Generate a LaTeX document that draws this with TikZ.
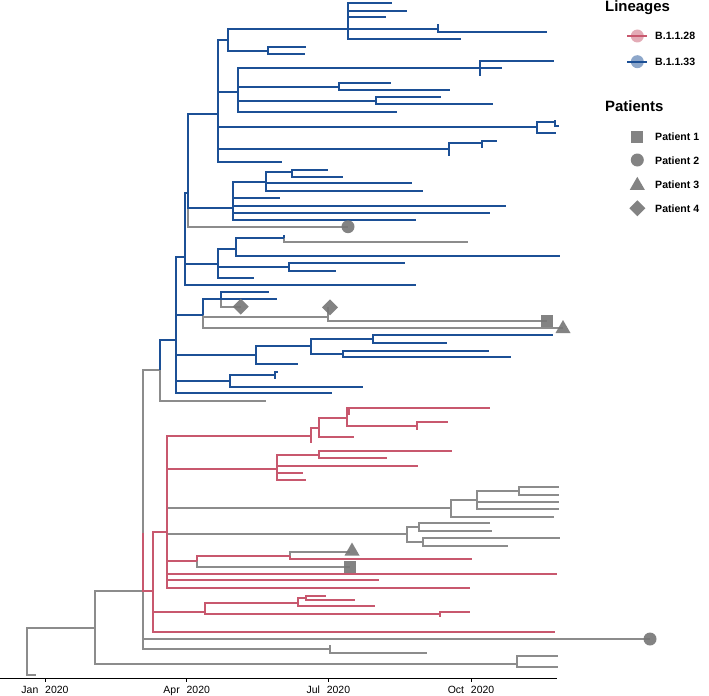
\documentclass[tikz,border=0pt]{standalone}
\usepackage{fontspec}
\setmainfont{Liberation Sans}
\definecolor{linblue}{RGB}{28,80,150}
\definecolor{linred}{RGB}{200,88,110}
\definecolor{lingray}{RGB}{140,140,140}
\definecolor{ptgray}{RGB}{118,118,118}

% patient markers
\newcommand{\psq}[1]{\fill[pt] #1 ++(-6,-6) rectangle ++(12,12);}
\newcommand{\pci}[1]{\fill[pt] #1 circle (6.5);}
\newcommand{\ptri}[1]{\fill[pt] #1 ++(0,-7.5) -- ++(7.5,13) -- ++(-15,0) -- cycle;}
\newcommand{\pdia}[1]{\fill[pt] #1 ++(0,-8) -- ++(8,8) -- ++(-8,8) -- ++(-8,-8) -- cycle;}

\begin{document}
\begin{tikzpicture}[x=1bp,y=-1bp,
    blu/.style={draw=linblue,line width=1.9bp},
    rd/.style={draw=linred,line width=1.9bp},
    gry/.style={draw=lingray,line width=1.9bp},
    pt/.style={fill=ptgray,fill opacity=0.9},
    lab/.style={anchor=base west,inner sep=0pt,font=\bfseries\fontsize{10.6}{13}\selectfont},
    ttl/.style={anchor=base west,inner sep=0pt,font=\bfseries\fontsize{15}{17}\selectfont}]
    \useasboundingbox (0,0) rectangle (709,696);

    % Backbone (gray)
    \draw[gry] (27,651) |- (95,627.7) (27,651) |- (36,674.7);
    \draw[gry] (95,627.7) |- (142.7,591) (95,627.7) |- (517,664);
    \draw[gry] (517,664) |- (558,656) (517,664) |- (558,667);
    \draw[gry] (142.7,591) |- (160,370) (142.7,591) |- (650,639) (142.7,591) |- (330,649);
    \draw[gry] (330,649) |- (427,653) (330,649) -- (330,645);
    \draw[gry] (160,370) |- (266,400.7);

    % Gray tips inside B.1.1.33
    \draw[gry] (188.3,193) |- (348,226.7);
    \draw[gry] (203.3,315) |- (328.3,317.3) (203.3,315) |- (563,328.3);
    \draw[gry] (221,299) |- (240.7,306.7);
    \draw[gry] (328.3,317.3) -- (328.3,307) (328.3,317.3) |- (546.7,321);
    \draw[gry] (284.3,238.3) |- (468.3,241.7);

    % Gray clades inside B.1.1.28
    \draw[gry] (166.7,531.7) |- (451,508.3) (166.7,531.7) |- (407.3,534);
    \draw[gry] (451,508.3) |- (477.3,500) (451,508.3) |- (554,516.7);
    \draw[gry] (477.3,500) |- (519.3,490.7) (477.3,500) |- (559,501.7) (477.3,500) |- (559,509.3);
    \draw[gry] (519.3,490.7) |- (559,487.3) (519.3,490.7) |- (559,495);
    \draw[gry] (407.3,534) |- (419.3,526.7) (407.3,534) |- (423.3,541.7);
    \draw[gry] (419.3,526.7) |- (490,523.3) (419.3,526.7) |- (491.7,530.7);
    \draw[gry] (423.3,541.7) |- (560,537.7) (423.3,541.7) |- (508.3,545.7);
    \draw[gry] (196.7,561) |- (350,566.7);
    \draw[gry] (290,556) |- (350,552.3);

    % B.1.1.33
    \draw[blu] (160,370) |- (176,340);
    \draw[blu] (176,340) |- (185,256.7) (176,340) |- (203.3,315) (176,340) |- (256,355)
               (176,340) |- (230,380.7) (176,340) |- (331.7,393.3);
    \draw[blu] (185,256.7) |- (188.3,193) (185,256.7) |- (218.3,264.3) (185,256.7) |- (415.7,285);
    \draw[blu] (188.3,193) |- (217.7,114) (188.3,193) |- (232.7,208.3);
    \draw[blu] (217.7,114) |- (228.3,40) (217.7,114) |- (237.7,91.7) (217.7,114) |- (536.7,127.3)
               (217.7,114) |- (449,149.3) (217.7,114) |- (281.7,162.3);
    \draw[blu] (228.3,40) |- (347.7,29) (228.3,40) |- (268.3,50.7);
    \draw[blu] (347.7,29) |- (392.3,2.7) (347.7,29) |- (407.3,10.7) (347.7,29) |- (386,17.3)
               (347.7,29) -- (438.3,29) (347.7,29) |- (460.7,39.3);
    \draw[blu] (438.3,29) -- (438.3,24) (438.3,29) |- (546.7,32.3);
    \draw[blu] (268.3,50.7) |- (306,46.7) (268.3,50.7) |- (305,54);
    \draw[blu] (237.7,91.7) |- (480,68.3) (237.7,91.7) |- (339.3,87.3) (237.7,91.7) |- (376,100.7)
               (237.7,91.7) |- (396.7,111.7);
    \draw[blu] (480,68.3) |- (554,60.7) (480,68.3) -- (501.7,68.3) (480,68.3) -- (480,76);
    \draw[blu] (339.3,87.3) |- (390.7,83.3) (339.3,87.3) |- (450,90.3);
    \draw[blu] (376,100.7) |- (440.7,97.3) (376,100.7) |- (493.3,104.3);
    \draw[blu] (536.7,127.3) |- (555,122.3) (536.7,127.3) |- (555.7,133.3);
    \draw[blu] (555,122.3) -- (555,120) (555,122.3) |- (559,126);
    \draw[blu] (449,149.3) |- (481.7,143.3) (449,149.3) -- (449,155.7);
    \draw[blu] (481.7,143.3) |- (496.7,140.7) (481.7,143.3) -- (481.7,148.3);
    \draw[blu] (232.7,208.3) |- (266,181.7) (232.7,208.3) |- (280,198.3) (232.7,208.3) |- (506,205.7)
               (232.7,208.3) |- (490,212.7) (232.7,208.3) |- (415.7,220);
    \draw[blu] (266,181.7) |- (291.7,172.3) (266,181.7) |- (412.3,183.3) (266,181.7) |- (423.3,191);
    \draw[blu] (291.7,172.3) |- (328.3,170) (291.7,172.3) |- (342.7,176.7);
    \draw[blu] (218.3,264.3) |- (236,249.3) (218.3,264.3) |- (289.3,266.7) (218.3,264.3) |- (254,278.3);
    \draw[blu] (236,249.3) |- (284.3,238.3) (236,249.3) |- (560,256);
    \draw[blu] (284.3,238.3) -- (284.3,235);
    \draw[blu] (289.3,266.7) |- (405,263.3) (289.3,266.7) |- (336,270.7);
    \draw[blu] (203.3,315) |- (221,299);
    \draw[blu] (221,299) |- (269,291.7) (221,299) -- (277,299);
    \draw[blu] (256,355) |- (311,345.7) (256,355) |- (298.3,364.3);
    \draw[blu] (311,345.7) |- (373.3,339.3) (311,345.7) |- (342.7,354);
    \draw[blu] (373.3,339.3) |- (553.3,335) (373.3,339.3) |- (446.7,342.7);
    \draw[blu] (342.7,354) |- (489,350.7) (342.7,354) |- (510.7,357.3);
    \draw[blu] (230,380.7) |- (275,375) (230,380.7) |- (363.3,386.7);
    \draw[blu] (275,375) |- (278.3,372.3) (275,375) -- (275,379.3);

    % B.1.1.28
    \draw[rd] (142.7,533) |- (153.3,591);
    \draw[rd] (153.3,591) |- (166.7,531.7) (153.3,591) |- (205,612.3) (153.3,591) |- (555,631.7);
    \draw[rd] (166.7,531.7) |- (311,436) (166.7,531.7) |- (276.7,469) (166.7,531.7) |- (196.7,561)
              (166.7,531.7) |- (556.7,574) (166.7,531.7) |- (379,580) (166.7,531.7) |- (470,588.3);
    \draw[rd] (311,436) |- (319,428.3) (311,436) -- (311,443.3);
    \draw[rd] (319,428.3) |- (346.7,418.3) (319,428.3) |- (354,436.7);
    \draw[rd] (346.7,418.3) |- (490,408.3) (346.7,418.3) |- (416.7,426);
    \draw[rd] (349.3,408.3) -- (349.3,415);
    \draw[rd] (416.7,426) |- (448.3,422.3) (416.7,426) -- (416.7,430);
    \draw[rd] (276.7,469) |- (319.3,455) (276.7,469) |- (418.3,465.7) (276.7,469) |- (303.3,472.7)
              (276.7,469) |- (306,480);
    \draw[rd] (319.3,455) |- (451.7,451) (319.3,455) |- (387.3,458.3);
    \draw[rd] (196.7,561) |- (290,556);
    \draw[rd] (290,556) |- (471.7,559.3);
    \draw[rd] (205,612.3) |- (298,603) (205,612.3) |- (440,614);
    \draw[rd] (298,603) |- (306,598) (298,603) |- (375,606);
    \draw[rd] (306,598) |- (326,596) (306,598) |- (355,600);
    \draw[rd] (440,614) |- (470,612) (440,614) -- (440,617);

    % Patients
    \pci{(348,226.7)}
    \pci{(650,639)}
    \pdia{(240.7,306.7)}
    \pdia{(330,307.3)}
    \psq{(546.7,321)}
    \ptri{(563,327.5)}
    \ptri{(352,550)}
    \psq{(350,566.7)}

    % Time axis
    \draw[line width=0.8bp] (0,678) -- (557,678);
    \foreach \tx/\mon in {45/Jan,186.7/Apr,328.3/Jul,471/Oct} {
        \draw[line width=0.8bp] (\tx,678) -- (\tx,682);
        \node[anchor=base,font=\fontsize{10.5}{12}\selectfont] (tick\mon) at (\tx,693) {\mon\hspace{4bp} 2020};
    }

    % Legend
    \node[ttl] (lintitle) at (605,12) {Lineages};
    \fill[linred,opacity=0.5] (637.3,36) circle (6.5);
    \draw[rd] (627.3,36) -- (647.3,36);
    \node[lab] (l28) at (655,40) {B.1.1.28};
    \fill[linblue,opacity=0.5] (637.3,61.7) circle (6.5);
    \draw[blu] (627.3,61.7) -- (647.3,61.7);
    \node[lab] (l33) at (655,65.7) {B.1.1.33};

    \node[ttl] (pattitle) at (605,112) {Patients};
    \psq{(637.3,136.7)}
    \node[lab] (p1) at (655,140.7) {Patient 1};
    \pci{(637.3,160)}
    \node[lab] (p2) at (655,164) {Patient 2};
    \ptri{(637.3,184.3)}
    \node[lab] (p3) at (655,188.3) {Patient 3};
    \pdia{(637.3,208.3)}
    \node[lab] (p4) at (655,212.3) {Patient 4};

\end{tikzpicture}
\end{document}
